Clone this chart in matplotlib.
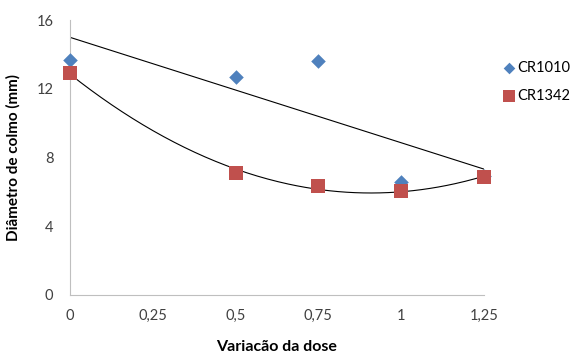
import matplotlib
matplotlib.use("Agg")
import matplotlib.pyplot as plt
import numpy as np

plt.rcParams["font.family"] = ["Lato", "DejaVu Sans"]

dose = [0, 0.5, 0.75, 1, 1.25]
cr1010 = [13.7, 12.7, 13.6, 6.6, 6.9]
cr1342 = [12.9, 7.1, 6.35, 6.05, 6.85]
x_ticks = [0, 0.25, 0.5, 0.75, 1, 1.25]
x_labels = ["0", "0,25", "0,5", "0,75", "1", "1,25"]
y_ticks = [0, 4, 8, 12, 16]

fig = plt.figure(figsize=(5.71, 3.58), dpi=100)
ax = fig.add_axes([0.1226, 0.176, 0.725, 0.768])

# trendlines: linear for CR1010, polynomial (order 2) for CR1342
xs = np.linspace(0, 1.25, 200)
lin = np.polyfit(dose, cr1010, 1)
quad = np.polyfit(dose, cr1342, 2)
ax.plot(xs, np.polyval(lin, xs), color="black", lw=0.8, zorder=2)
ax.plot(xs, np.polyval(quad, xs), color="black", lw=0.8, zorder=2)

ax.scatter(dose, cr1010, marker="D", s=55, color="#4F81BD", label="CR1010",
           clip_on=False, zorder=3, linewidths=0)
ax.scatter(dose, cr1342, marker="s", s=110, color="#C0504D", label="CR1342",
           clip_on=False, zorder=4, linewidths=0)

ax.set_xlim(0, 1.25)
ax.set_ylim(0, 16)
ax.set_xticks(x_ticks)
ax.set_xticklabels(x_labels)
ax.set_yticks(y_ticks)
ax.tick_params(length=0, labelsize=10.5, colors="#404040", pad=10)
ax.tick_params(axis="y", pad=12)
for s in ["top", "right"]:
    ax.spines[s].set_visible(False)
for s in ["left", "bottom"]:
    ax.spines[s].set_color("#BFBFBF")
    ax.spines[s].set_linewidth(0.8)

ax.set_xlabel("Variacão da dose", fontsize=11.5, fontweight="bold", labelpad=12)
ax.set_ylabel("Diâmetro de colmo (mm)", fontsize=11, fontweight="bold", labelpad=11)

ax.legend(loc="upper left", bbox_to_anchor=(1.01, 0.9), frameon=False,
          fontsize=10.5, handletextpad=0.1, handlelength=1.0, labelspacing=1.0,
          markerscale=0.8)

fig.savefig("out.png", dpi=100)
